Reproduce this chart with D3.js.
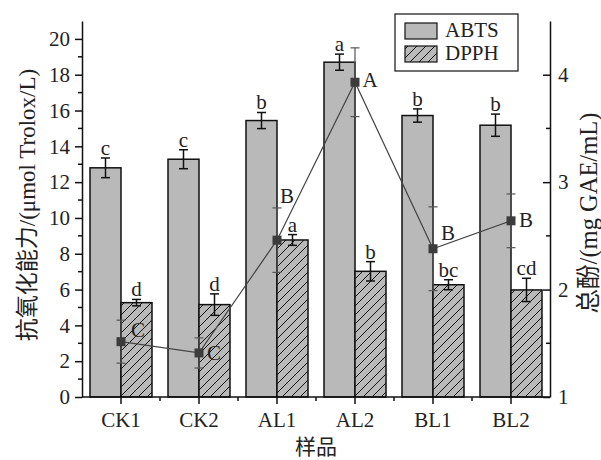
<!DOCTYPE html>
<html>
<head>
<meta charset="utf-8">
<script src="https://cdn.jsdelivr.net/npm/d3@7"></script>
<style>
  body { margin: 0; background: #fff; }
  text { font-family: "Liberation Serif", "Noto Sans CJK SC", serif; fill: #222; }
</style>
</head>
<body>
<div class="chart"></div>
<script>
// sample names
const samples = ["CK1", "CK2", "AL1", "AL2", "BL1", "BL2"];

// ABTS (left axis)
const abts = [12.8, 13.28, 15.44, 18.7, 15.72, 15.18];
const abtsErr = [0.55, 0.53, 0.45, 0.45, 0.37, 0.62];
const abtsSig = ["c", "c", "b", "a", "b", "b"];

// DPPH (left axis)
const dpph = [5.27, 5.16, 8.77, 7.02, 6.27, 5.98];
const dpphErr = [0.18, 0.6, 0.3, 0.54, 0.28, 0.65];
const dpphSig = ["d", "d", "a", "b", "bc", "cd"];

// total phenol (right axis)
const phenol = [1.515, 1.41, 2.46, 3.93, 2.38, 2.64];
const phenolErr = [0.2, 0.14, 0.3, 0.32, 0.39, 0.25];
const phenolSig = ["C", "C", "B", "A", "B", "B"];
// nudges for the phenol letters (dx, dy in px)
const phenolLabelDx = [17, 15, 10, 15, 15, 15];
const phenolLabelDy = [-5, 7, -37, 5, -9, 6];

const leftTicks = [0, 2, 4, 6, 8, 10, 12, 14, 16, 18, 20];
const rightTicks = [1, 2, 3, 4];

var margin = { top: 21, right: 51, bottom: 63, left: 82 },
  width = 601 - margin.left - margin.right,
  height = 460 - margin.top - margin.bottom;

const fs = 21;

const root = d3.select(".chart").append("svg")
  .attr("width", 601).attr("height", 460);

// hatch pattern for DPPH
const pat = root.append("defs").append("pattern")
  .attr("id", "hatch")
  .attr("patternUnits", "userSpaceOnUse")
  .attr("width", 9).attr("height", 9);
pat.append("rect").attr("width", 9).attr("height", 9).attr("fill", "#b9b9b9");
pat.append("path")
  .attr("d", "M-1,10 L10,-1 M-2,2 L2,-2 M7,11 L11,7")
  .attr("stroke", "#111").attr("stroke-width", 1);

const svg = root.append("g")
  .attr("transform", "translate(" + margin.left + "," + margin.top + ")");

const x = d3.scaleBand().domain(samples).range([0, width]).padding(0);
const y = d3.scaleLinear().domain([0, 21]).range([height, 0]);
const y2 = d3.scaleLinear().domain([1, 4.5]).range([height, 0]);

const pad = 8;
const bw = x.bandwidth() / 2 - pad;

// ABTS bars
svg.selectAll(".abts").data(samples).enter().append("rect")
  .attr("x", (d) => x(d) + pad)
  .attr("y", (d, i) => y(abts[i]))
  .attr("width", bw)
  .attr("height", (d, i) => height - y(abts[i]))
  .attr("fill", "#b9b9b9").attr("stroke", "#111").attr("stroke-width", 1.5);

// DPPH bars
svg.selectAll(".dpph").data(samples).enter().append("rect")
  .attr("x", (d) => x(d) + x.bandwidth() / 2)
  .attr("y", (d, i) => y(dpph[i]))
  .attr("width", bw)
  .attr("height", (d, i) => height - y(dpph[i]))
  .attr("fill", "url(#hatch)").attr("stroke", "#111").attr("stroke-width", 1.5);

function errBar(g, cx, lo, hi, color, sw) {
  g.append("line").attr("x1", cx).attr("x2", cx).attr("y1", lo).attr("y2", hi)
    .attr("stroke", color).attr("stroke-width", sw);
  [lo, hi].forEach((yy) => {
    g.append("line").attr("x1", cx - 4.5).attr("x2", cx + 4.5).attr("y1", yy).attr("y2", yy)
      .attr("stroke", color).attr("stroke-width", sw);
  });
}

samples.forEach((s, i) => {
  const cA = x(s) + pad + bw / 2;
  const cD = x(s) + x.bandwidth() / 2 + bw / 2;
  errBar(svg, cA, y(abts[i] - abtsErr[i]), y(abts[i] + abtsErr[i]), "#111", 1.5);
  errBar(svg, cD, y(dpph[i] - dpphErr[i]), y(dpph[i] + dpphErr[i]), "#111", 1.5);
  svg.append("text").attr("x", cA).attr("y", y(abts[i] + abtsErr[i]) - 3)
    .attr("text-anchor", "middle").attr("font-size", fs).text(abtsSig[i]);
  svg.append("text").attr("x", cD).attr("y", y(dpph[i] + dpphErr[i]) - 3)
    .attr("text-anchor", "middle").attr("font-size", fs).text(dpphSig[i]);
});

// phenol line
const cx = (s) => x(s) + x.bandwidth() / 2;
svg.append("path")
  .datum(samples)
  .attr("fill", "none").attr("stroke", "#444").attr("stroke-width", 1.2)
  .attr("d", d3.line().x((d) => cx(d)).y((d, i) => y2(phenol[i])));

samples.forEach((s, i) => {
  errBar(svg, cx(s), y2(phenol[i] - phenolErr[i]), y2(phenol[i] + phenolErr[i]), "#555", 1.2);
});

svg.selectAll(".pt").data(samples).enter().append("rect")
  .attr("x", (d) => cx(d) - 4.5)
  .attr("y", (d, i) => y2(phenol[i]) - 4.5)
  .attr("width", 9).attr("height", 9)
  .attr("fill", "#3c3c3c");

svg.selectAll(".plab").data(samples).enter().append("text")
  .attr("x", (d, i) => cx(d) + phenolLabelDx[i])
  .attr("y", (d, i) => y2(phenol[i]) + phenolLabelDy[i])
  .attr("text-anchor", "middle").attr("font-size", fs)
  .text((d, i) => phenolSig[i]);

// axes
const ax = svg.append("g").attr("transform", "translate(0," + height + ")");
ax.append("line").attr("x1", 0).attr("x2", width).attr("stroke", "#111").attr("stroke-width", 1.5);
samples.forEach((s) => {
  ax.append("line").attr("x1", cx(s)).attr("x2", cx(s)).attr("y1", 0).attr("y2", 7)
    .attr("stroke", "#111").attr("stroke-width", 1.5);
  ax.append("text").attr("x", cx(s)).attr("y", 30).attr("text-anchor", "middle")
    .attr("font-size", fs).text(s);
});
samples.slice(1).forEach((s) => {
  ax.append("line").attr("x1", x(s)).attr("x2", x(s)).attr("y1", 0).attr("y2", 4)
    .attr("stroke", "#111").attr("stroke-width", 1.5);
});

const yl = svg.append("g");
yl.call(d3.axisLeft(y).tickValues(leftTicks).tickSize(7).tickPadding(5).tickSizeOuter(0));
yl.selectAll(".minor").data(d3.range(1, 21, 2)).enter().append("line")
  .attr("x1", -4).attr("x2", 0).attr("y1", (d) => y(d)).attr("y2", (d) => y(d))
  .attr("stroke", "#111").attr("stroke-width", 1.5);

const yr = svg.append("g").attr("transform", "translate(" + width + ",0)");
yr.call(d3.axisRight(y2).tickValues(rightTicks).tickFormat(d3.format("d"))
  .tickSizeInner(-7).tickPadding(8).tickSizeOuter(0));
yr.selectAll(".minor").data([1.5, 2.5, 3.5]).enter().append("line")
  .attr("x1", -4).attr("x2", 0).attr("y1", (d) => y2(d)).attr("y2", (d) => y2(d))
  .attr("stroke", "#111").attr("stroke-width", 1.5);

[yl, yr].forEach((g) => {
  g.select(".domain").attr("stroke", "#111").attr("stroke-width", 1.5);
  g.selectAll(".tick line").attr("stroke", "#111").attr("stroke-width", 1.5);
  g.selectAll(".tick text").attr("font-size", fs)
    .attr("font-family", "Liberation Serif").attr("fill", "#222");
});

// axis titles
root.append("text")
  .attr("transform", "translate(35,205) rotate(-90)")
  .attr("text-anchor", "middle").attr("font-size", 23)
  .text("抗氧化能力/(μmol Trolox/L)");

root.append("text")
  .attr("transform", "translate(597,213) rotate(-90)")
  .attr("text-anchor", "middle").attr("font-size", 24.5)
  .text("总酚/(mg GAE/mL)");

root.append("text")
  .attr("x", margin.left + width / 2).attr("y", 454)
  .attr("text-anchor", "middle").attr("font-size", 21)
  .text("样品");

// legend
const lg = root.append("g").attr("transform", "translate(395,14)");
lg.append("rect").attr("width", 123).attr("height", 57)
  .attr("fill", "#fff").attr("stroke", "#111").attr("stroke-width", 1.2);
const legendItems = ["ABTS", "DPPH"];
lg.selectAll(".sw").data(legendItems).enter().append("rect")
  .attr("x", 10).attr("y", (d, i) => 9 + i * 23)
  .attr("width", 32).attr("height", 16)
  .attr("fill", (d, i) => i === 0 ? "#b9b9b9" : "url(#hatch)")
  .attr("stroke", "#111").attr("stroke-width", 1.2);
lg.selectAll(".lt").data(legendItems).enter().append("text")
  .attr("x", 50).attr("y", (d, i) => 23 + i * 23)
  .attr("font-size", fs).text((d) => d);
</script>
</body>
</html>
